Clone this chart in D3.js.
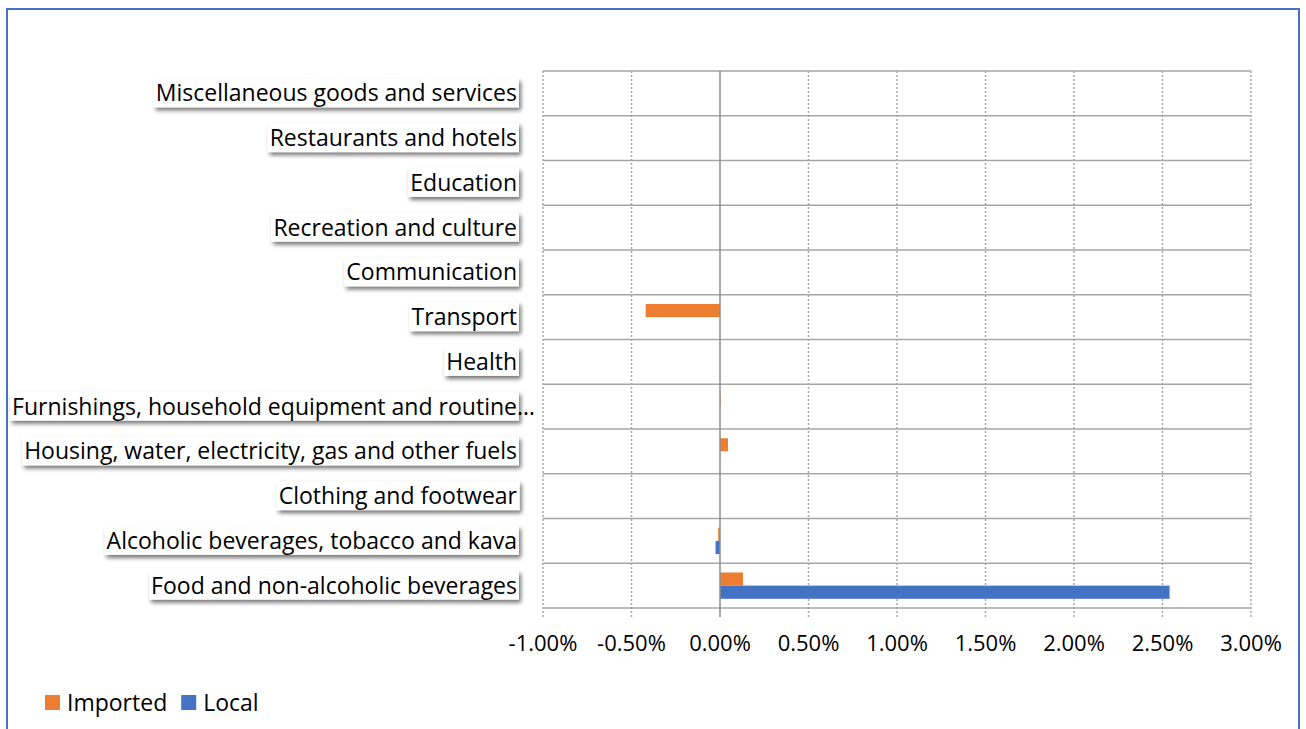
<!DOCTYPE html>
<html>
<head>
<meta charset="utf-8">
<script src="https://cdn.jsdelivr.net/npm/d3@7"></script>
<style>
  body { margin: 0; background: #fff; }
  svg { display: block; font-family: "Open Sans", "Noto Sans", sans-serif; }
</style>
</head>
<body>
<div id="chart"></div>
<script>
// data, bottom to top as in the picture
const categories = [
  "Food and non-alcoholic beverages",
  "Alcoholic beverages, tobacco and kava",
  "Clothing and footwear",
  "Housing, water, electricity, gas and other fuels",
  "Furnishings, household equipment and routine…",
  "Health",
  "Transport",
  "Communication",
  "Recreation and culture",
  "Education",
  "Restaurants and hotels",
  "Miscellaneous goods and services"
];
const imported = [0.0013, -0.0001, 0, 0.00045, 0.00003, 0, -0.0042, 0, 0, 0, 0, 0];
const local    = [0.0254, -0.00025, 0, 0, 0, 0, 0, 0, 0, 0, 0, 0];
const tickValues = [-0.01, -0.005, 0, 0.005, 0.01, 0.015, 0.02, 0.025, 0.03];
const seriesNames = ["Imported", "Local"];
const seriesColors = ["#ED7D31", "#4472C4"];

const width = 1306, height = 729;
const plot = { left: 543, right: 1251, top: 71, bottom: 608 };

const svg = d3.select("#chart").append("svg")
  .attr("width", width).attr("height", height);

const defs = svg.append("defs");
const shadow = defs.append("filter").attr("id", "shadow")
  .attr("x", "-10%").attr("y", "-40%").attr("width", "130%").attr("height", "190%");
shadow.append("feGaussianBlur").attr("in", "SourceAlpha").attr("stdDeviation", 2);
shadow.append("feOffset").attr("dx", 2).attr("dy", 3).attr("result", "off");
shadow.append("feComponentTransfer").append("feFuncA").attr("type", "linear").attr("slope", 0.55);
const merge = shadow.append("feMerge");
merge.append("feMergeNode");
merge.append("feMergeNode").attr("in", "SourceGraphic");

// outer frame
svg.append("rect")
  .attr("x", 7).attr("y", 9).attr("width", 1292).attr("height", 740)
  .attr("fill", "none").attr("stroke", "#4472C4").attr("stroke-width", 2);

const x = d3.scaleLinear().domain([-0.01, 0.03]).range([plot.left, plot.right]);
const y = d3.scaleBand().domain(categories.slice().reverse())
  .range([plot.top, plot.bottom]).paddingInner(0).paddingOuter(0);
const inner = d3.scaleBand().domain(seriesNames)
  .range([0, y.bandwidth()]).paddingInner(0).paddingOuter(0.7);

// horizontal grid at category boundaries
const grid = svg.append("g");
d3.range(categories.length + 1).forEach(i => {
  const yy = plot.top + i * y.step();
  grid.append("line")
    .attr("x1", plot.left).attr("x2", plot.right)
    .attr("y1", yy).attr("y2", yy)
    .attr("stroke", "#a6a6a6").attr("stroke-width", 1.5);
});

// vertical dotted grid
grid.selectAll("line.v").data(tickValues.filter(d => d !== 0)).join("line")
  .attr("class", "v")
  .attr("x1", d => x(d)).attr("x2", d => x(d))
  .attr("y1", plot.top).attr("y2", plot.bottom + 9)
  .attr("stroke", "#a6a6a6").attr("stroke-width", 1.5)
  .attr("stroke-dasharray", "2,2");

// bars
const rows = categories.map((c, i) => ({ c, vals: [imported[i], local[i]] }));
svg.append("g").selectAll("g").data(rows).join("g")
  .attr("transform", d => `translate(0,${y(d.c)})`)
  .selectAll("rect").data(d => d.vals.map((v, j) => ({ v, s: seriesNames[j], col: seriesColors[j] })))
  .join("rect")
  .attr("x", d => x(Math.min(0, d.v)))
  .attr("width", d => Math.abs(x(d.v) - x(0)))
  .attr("y", d => inner(d.s))
  .attr("height", inner.bandwidth())
  .attr("fill", d => d.col);

// zero line
svg.append("line")
  .attr("x1", x(0)).attr("x2", x(0))
  .attr("y1", plot.top).attr("y2", plot.bottom + 9)
  .attr("stroke", "#8c8c8c").attr("stroke-width", 1.5);

// x axis labels (plain hyphen for negatives)
const fmt = d3.formatLocale({ decimal: ".", thousands: ",", grouping: [3], currency: ["$", ""], minus: "-" }).format(".2%");
svg.append("g").selectAll("text").data(tickValues).join("text")
  .attr("x", d => x(d)).attr("y", 651)
  .attr("text-anchor", "middle")
  .attr("font-size", 22)
  .attr("fill", "#000")
  .text(d => fmt(d));

// category labels with white boxes and shadow
const labels = svg.append("g");
categories.forEach(c => {
  const cy = y(c) + y.bandwidth() / 2;
  const g = labels.append("g");
  const t = g.append("text")
    .attr("x", 517).attr("y", cy + 8)
    .attr("text-anchor", "end")
    .attr("font-size", 23)
    .attr("fill", "#000")
    .text(c);
  let bb = t.node().getBBox();
  let bx = bb.x - 2, bw = bb.width + 4;
  if (bb.x < 12) {
    // truncated label: squeeze it to start at the frame, ellipsis spills past the box
    t.attr("x", 12).attr("text-anchor", "start")
      .attr("textLength", 523).attr("lengthAdjust", "spacingAndGlyphs");
    bx = 10; bw = 509;
  }
  g.insert("rect", "text")
    .attr("x", bx).attr("y", cy - 15)
    .attr("width", bw).attr("height", 29)
    .attr("fill", "#fff")
    .attr("filter", "url(#shadow)");
});

// legend
const legend = svg.append("g").attr("transform", "translate(45,703)");
let lx = 0;
seriesNames.forEach((s, i) => {
  legend.append("rect").attr("x", lx).attr("y", -8).attr("width", 15).attr("height", 15)
    .attr("fill", seriesColors[i]);
  const t = legend.append("text").attr("x", lx + 22).attr("y", 8)
    .attr("font-size", 23).attr("fill", "#000").text(s);
  lx += 22 + t.node().getComputedTextLength() + 14;
});
</script>
</body>
</html>
